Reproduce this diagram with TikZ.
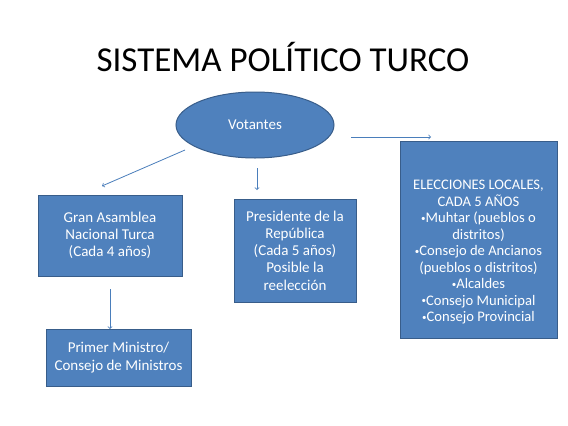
\documentclass[tikz,border=0pt]{standalone}
\usepackage{fontspec}
\setmainfont{Carlito}
\usetikzlibrary{shapes,arrows,positioning,calc}
\definecolor{boxblue}{HTML}{4F81BD}
\definecolor{boxline}{HTML}{385D8A}
\definecolor{arrowblue}{HTML}{4A7EBB}
\newcommand{\blt}{\raisebox{0.25ex}{\fontsize{9}{9}\selectfont•}}

\begin{document}
\begin{tikzpicture}[x=1pt, y=-1pt,
	box/.style={draw=boxline, line width=1pt, fill=boxblue, text=white, align=center,
		font=\fontsize{15}{17.3}\selectfont, inner sep=0pt},
	smalltxt/.style={text=white, align=center, font=\fontsize{14.6}{16.5}\selectfont, inner sep=0pt},
	link/.style={->, arrowblue, line width=0.8pt}]
	\useasboundingbox[fill=white] (0,0) rectangle (568,426);
	% title
	\node[font=\fontsize{35}{40}\selectfont] (title) at (283,57) {SISTEMA POLÍTICO TURCO};
	% voters
	\node[ellipse, box, minimum width=158pt, minimum height=66pt] (vot) at (255,125) {Votantes};
	% boxes
	\node[box, minimum width=144pt, minimum height=81pt] (gan) at (110,235.5) {Gran Asamblea\\Nacional Turca\\(Cada 4 años)};
	\node[box, minimum width=145pt, minimum height=57pt] (pm) at (118.5,357.5) {Primer Ministro/\\Consejo de Ministros};
	\node[box, minimum width=122pt, minimum height=103pt] (pres) at (295,250.5) {Presidente de la\\República\\(Cada 5 años)\\Posible la\\reelección};
	\node[box, minimum width=157pt, minimum height=197pt] (loc) at (478.5,239.5) {};
	\node[smalltxt] (loctxt) at (478.5,252.5) {ELECCIONES LOCALES,\\CADA 5 AÑOS\\\blt Muhtar (pueblos o\\distritos)\\\blt Consejo de Ancianos\\(pueblos o distritos)\\\blt Alcaldes\\\blt Consejo Municipal\\\blt Consejo Provincial};
	% arrows
	\coordinate (a1s) at (185,150);
	\coordinate (a1e) at (102,186);
	\coordinate (a2s) at (257,168);
	\coordinate (a2e) at (257,190);
	\coordinate (a3s) at (351,137);
	\coordinate (a3e) at (431,137);
	\coordinate (a4s) at (110,289);
	\coordinate (a4e) at (110,329);
	\draw[link] (a1s) -- (a1e);
	\draw[link] (a2s) -- (a2e);
	\draw[link] (a3s) -- (a3e);
	\draw[link] (a4s) -- (a4e);
\end{tikzpicture}
\end{document}
